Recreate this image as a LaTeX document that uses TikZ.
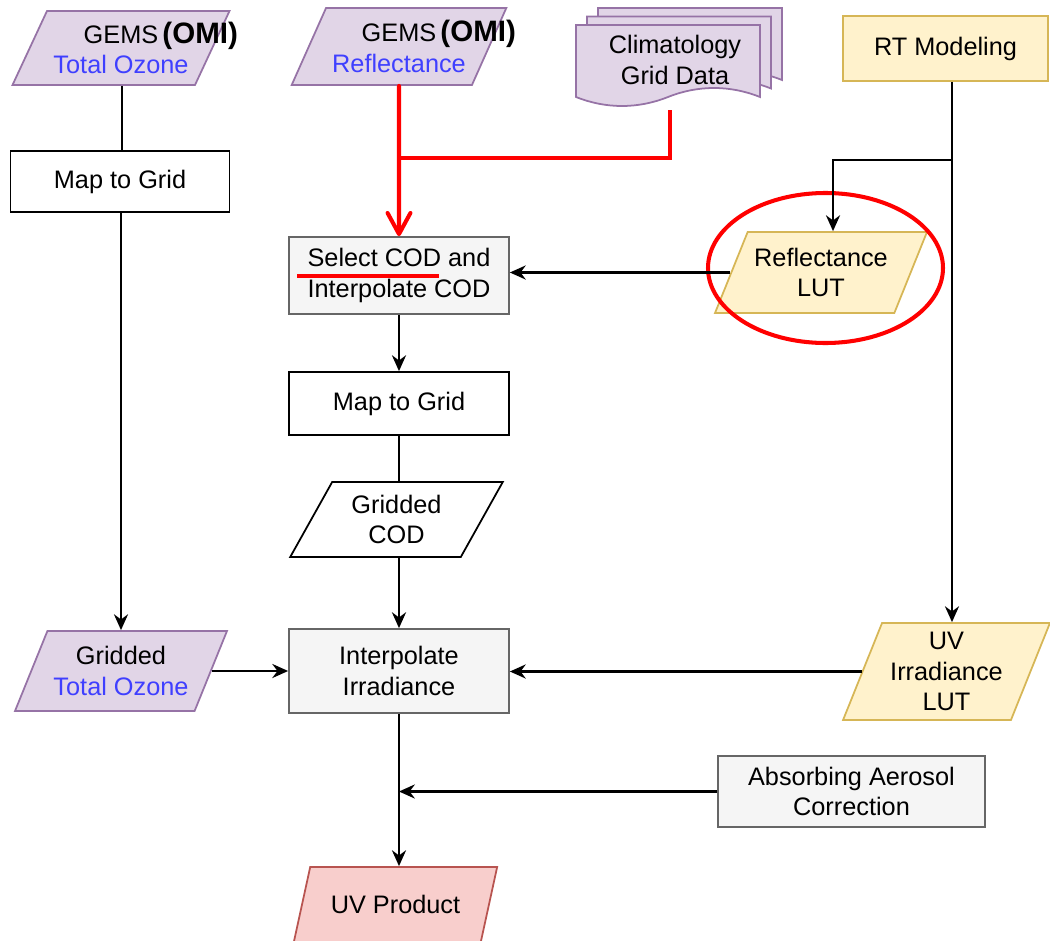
\documentclass[tikz,border=0pt]{standalone}
\usepackage{fontspec}
\setmainfont{Liberation Sans}
\usetikzlibrary{shapes.geometric, arrows.meta, positioning, calc}

\definecolor{purplefill}{HTML}{E1D5E7}
\definecolor{purpleline}{HTML}{9673A6}
\definecolor{yellowfill}{HTML}{FFF2CC}
\definecolor{yellowline}{HTML}{D6B656}
\definecolor{grayfill}{HTML}{F5F5F5}
\definecolor{grayline}{HTML}{666666}
\definecolor{pinkfill}{HTML}{F8CECC}
\definecolor{pinkline}{HTML}{B85450}
\definecolor{textblue}{HTML}{3F3FFF}
\definecolor{markred}{HTML}{FF0000}

\begin{document}
\begin{tikzpicture}[
  font=\fontsize{14.4}{17.5}\selectfont,
  process/.style={rectangle, minimum width=4.4cm, minimum height=1.26cm, align=center, draw=black, fill=white, line width=1pt},
  grayprocess/.style={process, draw=grayline, fill=grayfill},
  iodata/.style={trapezium, trapezium left angle=60, trapezium right angle=120, trapezium stretches=true, minimum width=4.28cm, minimum height=1.5cm, align=center, inner sep=1pt, draw=black, fill=white, line width=1pt},
  inputdata/.style={iodata, draw=purpleline, fill=purplefill},
  lutdata/.style={iodata, draw=yellowline, fill=yellowfill},
  climpage/.style={draw=purpleline, fill=purplefill, line width=1pt},
  link/.style={line width=1.3pt},
  arrow/.style={line width=1.3pt, -{Stealth[length=9pt, width=8pt]}},
  redline/.style={line width=2.3pt, draw=markred},
  redarrow/.style={redline, line cap=round, -{Straight Barb[length=12pt, width=13pt, round]}}
]
  \useasboundingbox (0,0) rectangle (21,-18.82);

  % Eingangsdaten
  \node (ozone) [inputdata, minimum width=4.34cm, minimum height=1.48cm] at (2.42,-0.96) {GEMS\rlap{\,\fontsize{16.8}{17}\selectfont\bfseries(OMI)}\\\textcolor{textblue}{Total Ozone}};
  \node (refl) [inputdata, minimum width=4.3cm, minimum height=1.54cm] at (7.98,-0.93) {GEMS\rlap{\,\fontsize{16.8}{17}\selectfont\bfseries(OMI)}\\\textcolor{textblue}{Reflectance}};
  \foreach \d in {2,1,0}
    \filldraw[climpage] ({11.52+0.22*\d},{-0.5+0.17*\d}) -- ++(3.68,0) -- ++(0,-1.44)
      .. controls +(-0.6,0.24) and +(0.6,0.24) .. ++(-1.84,0)
      .. controls +(-0.6,-0.24) and +(0.6,-0.24) .. ++(-1.84,0) -- cycle;
  \node (clim) [align=center] at (13.5,-1.2) {Climatology\\Grid Data};
  \coordinate (climout) at (13.4,-2.2);
  \node (rt) [process, draw=yellowline, fill=yellowfill, minimum width=4.1cm, minimum height=1.3cm] at (18.91,-0.97) {RT Modeling};

  % Verarbeitung
  \node (map1) [process, minimum width=4.38cm, minimum height=1.22cm] at (2.4,-3.63) {Map to Grid};
  \node (select) [grayprocess, minimum height=1.54cm] at (7.98,-5.51) {Select COD and\\Interpolate COD};
  \node (reflut) [lutdata, minimum width=4.24cm, minimum height=1.62cm] at (16.42,-5.45) {Reflectance\\LUT};
  \node (map2) [process] at (7.98,-8.07) {Map to Grid};
  \node (gcod) [iodata] at (7.93,-10.39) {Gridded\\COD};
  \node (gtoz) [inputdata, minimum width=4.24cm, minimum height=1.6cm] at (2.42,-13.42) {Gridded\\\textcolor{textblue}{Total Ozone}};
  \node (interp) [grayprocess, minimum height=1.68cm] at (7.98,-13.42) {Interpolate\\Irradiance};
  \node (uvlut) [lutdata, trapezium left angle=67, trapezium right angle=113, minimum width=4.14cm, minimum height=1.94cm] at (18.93,-13.43) {UV\\Irradiance\\LUT};
  \node (aac) [grayprocess, minimum width=5.34cm, minimum height=1.42cm] at (17.03,-15.83) {Absorbing Aerosol\\Correction};
  \node (uvprod) [iodata, draw=pinkline, fill=pinkfill, minimum width=4.1cm] at (7.91,-18.09) {UV Product};

  % Markierungen
  \draw[redline] ([xshift=0.18cm, yshift=-0.01cm]select.west) -- ([xshift=3.02cm, yshift=-0.01cm]select.west);
  \draw[redline] ([shift={(0.09,0.09)}]reflut.center) ellipse [x radius=2.35cm, y radius=1.5cm];

  % Verbindungen
  \draw[link] ([xshift=0.02cm]ozone.south) -- ([xshift=0.02cm]ozone.south |- map1.north);
  \draw[arrow] ([xshift=0.02cm]map1.south) -- ([xshift=0.02cm]map1.south |- gtoz.north);
  \draw[redline] (climout) |- (refl.south |- 0,-3.16);
  \draw[redarrow] (refl) -- (select);
  \draw[arrow] ([xshift=0.13cm]rt.south) -- ([xshift=0.13cm]rt.south |- uvlut.north);
  \draw[arrow] ([xshift=0.13cm]rt.south |- 0,-3.2) -| ([xshift=0.24cm]reflut.north);
  \draw[arrow] (reflut.west) -- (reflut.west -| select.east);
  \draw[arrow] (select) -- (map2);
  \draw[link] (map2) -- (map2 |- gcod.north);
  \draw[arrow] (map2 |- gcod.south) -- (interp);
  \draw[arrow] (gtoz.east) -- (gtoz.east -| interp.west);
  \draw[arrow] (uvlut.west) -- (uvlut.west -| interp.east);
  \draw[arrow] (interp) -- (interp |- uvprod.north);
  \draw[arrow] (aac.west) -- (aac.west -| interp.south);

\end{tikzpicture}
\end{document}
